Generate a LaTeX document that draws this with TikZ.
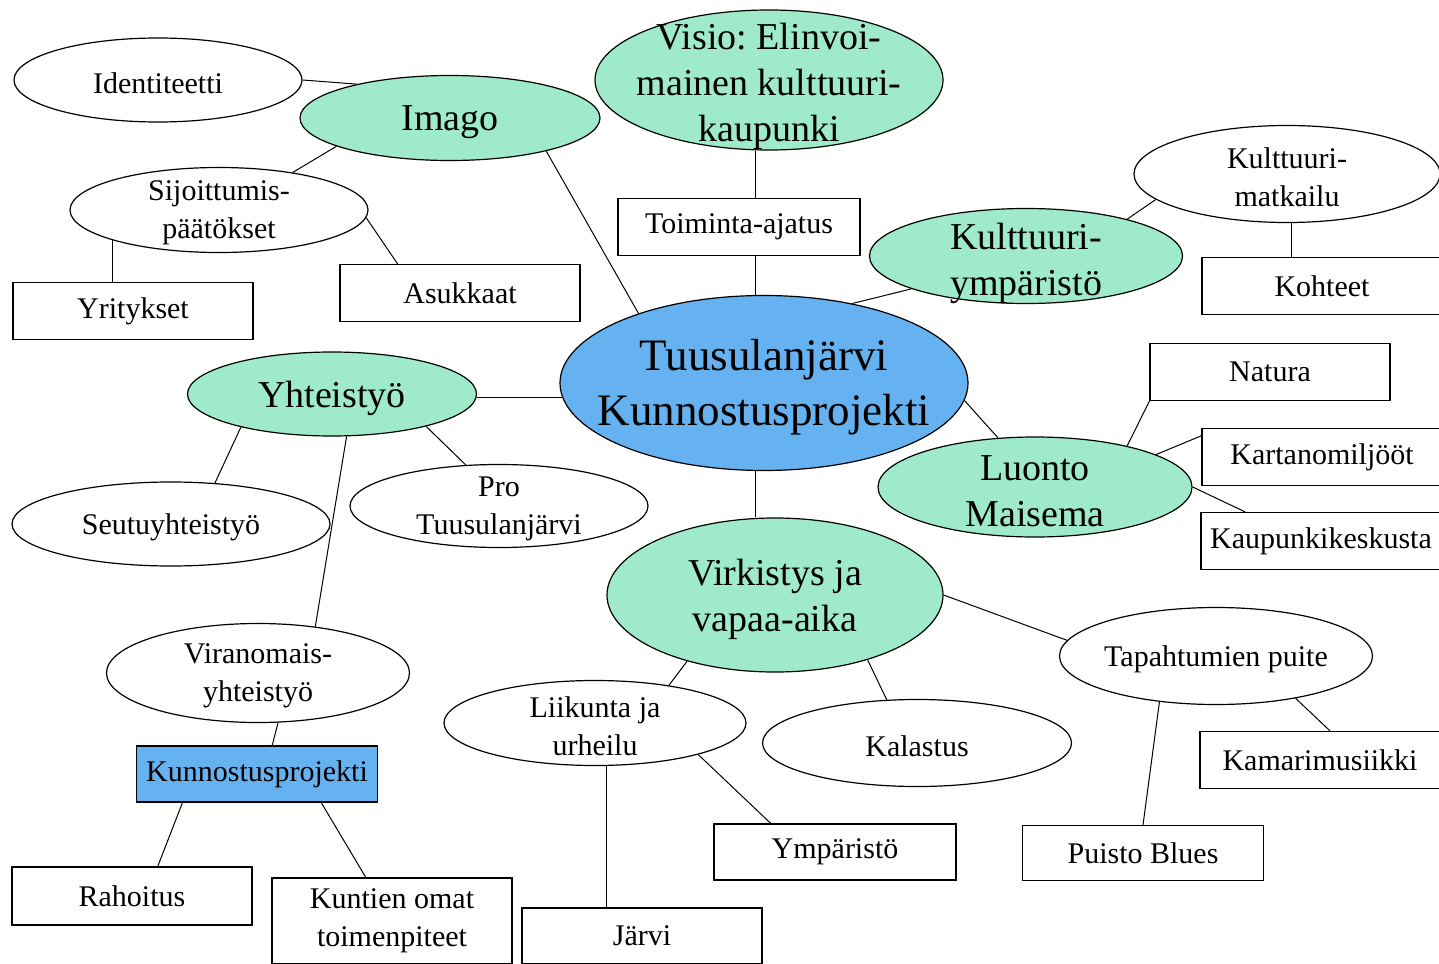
\documentclass[tikz,border=0pt]{standalone}
\usepackage{fontspec}
\setmainfont{Liberation Serif}
\usepackage{tikz}
\usetikzlibrary{shapes,calc}
\definecolor{mint}{RGB}{158,234,202}
\definecolor{sky}{RGB}{102,178,240}

\begin{document}
\begin{tikzpicture}[x=1pt,y=-1pt,line width=1pt]
      \tikzset{oval/.style={ellipse,draw=black,line width=1.2pt,inner sep=0pt,fill=#1},
        oval/.default=white,
        plainbox/.style={rectangle,draw=black,line width=1.2pt,inner sep=0pt,
          minimum width=240,minimum height=57,fill=#1,
          font=\fontsize{30}{38}\selectfont,align=center},
        plainbox/.default=white,
        smalltxt/.style={font=\fontsize{30}{38}\selectfont,align=center,yshift=-3pt},
        bigtxt/.style={font=\fontsize{38}{46}\selectfont,align=center,yshift=-4pt},
        hubtxt/.style={font=\fontsize{45}{55}\selectfont,align=center,yshift=-4pt}
      }
      \useasboundingbox (0,0) rectangle (1439,963);
      \coordinate (spine) at (755,0);

      % main ellipses
      \node [oval=sky,minimum width=408,minimum height=175,
        label={[hubtxt]center:{Tuusulanjärvi\\Kunnostusprojekti}}] (hub) at (764,383) {};
      \node [oval=mint,minimum width=300,minimum height=85,
        label={[bigtxt]center:Imago}] (imago) at (450,118) {};
      \node [oval=mint,minimum width=348,minimum height=140,
        label={[bigtxt,yshift=-2pt]center:{Visio:\ Elinvoi-\\mainen kulttuuri-\\kaupunki}}] (visio) at (769,80) {};
      \node [oval=mint,minimum width=313,minimum height=95,
        label={[bigtxt,yshift=-3pt]center:{Kulttuuri-\\ympäristö}}] (kymp) at (1026,256) {};
      \node [oval=mint,minimum width=289,minimum height=84,
        label={[bigtxt]center:Yhteistyö}] (yht) at (332,394) {};
      \node [oval=mint,minimum width=314,minimum height=100,
        label={[bigtxt]center:{Luonto\\Maisema}}] (luonto) at (1035,487) {};
      \node [oval=mint,minimum width=336,minimum height=154,
        label={[bigtxt]center:{Virkistys ja\\vapaa-aika}}] (virk) at (775,595) {};

      % white ellipses
      \node [oval,minimum width=288,minimum height=84,
        label={[smalltxt]center:Identiteetti}] (ident) at (158,80) {};
      \node [oval,minimum width=298,minimum height=85,
        label={[smalltxt]center:{Sijoittumis-\\päätökset}}] (sij) at (219,210) {};
      \node [oval,minimum width=306,minimum height=97,
        label={[smalltxt]center:{Kulttuuri-\\matkailu}}] (matk) at (1287,174) {};
      \node [oval,minimum width=318,minimum height=84,
        label={[smalltxt]center:Seutuyhteistyö}] (seutu) at (171,524) {};
      \node [oval,minimum width=298,minimum height=83,
        label={[smalltxt]center:{Pro\\Tuusulanjärvi}}] (pro) at (499,506) {};
      \node [oval,minimum width=303,minimum height=99,
        label={[smalltxt]center:{Viranomais-\\yhteistyö}}] (vir) at (258,673) {};
      \node [oval,minimum width=302,minimum height=85,
        label={[smalltxt]center:{Liikunta ja\\urheilu}}] (liik) at (595,723) {};
      \node [oval,minimum width=309,minimum height=87,
        label={[smalltxt]center:Kalastus}] (kal) at (917,743) {};
      \node [oval,minimum width=313,minimum height=97,
        label={[smalltxt]center:Tapahtumien puite}] (tap) at (1216,656) {};

      % boxes
      \node [plainbox] (yrit) at (133,311) {Yritykset};
      \node [plainbox] (asuk) at (460,293) {Asukkaat};
      \node [plainbox,minimum width=242] (toim) at (739,227) {Toiminta-ajatus};
      \node [plainbox] (koh) at (1322,286) {Kohteet};
      \node [plainbox] (natura) at (1270,372) {Natura};
      \node [plainbox] (kart) at (1322,457) {Kartanomiljööt};
      \node [plainbox] (kaup) at (1321,541) {Kaupunkikeskusta};
      \node [plainbox] (kam) at (1320,760) {Kamarimusiikki};
      \node [plainbox=sky,minimum width=241,minimum height=56] (kun) at (257,774) {Kunnostusprojekti};
      \node [plainbox,minimum width=242,minimum height=56] (ymp) at (835,852) {Ympäristö};
      \node [plainbox,minimum width=241,minimum height=55] (puisto) at (1143,853) {Puisto Blues};
      \node [plainbox,minimum height=58] (rah) at (132,896) {Rahoitus};
      \node [plainbox,minimum height=86] (kunt) at (392,921) {Kuntien omat\\toimenpiteet};
      \node [plainbox,minimum height=56] (jarvi) at (642,936) {Järvi};

      % connectors
      \draw (ident.0)--(imago.160);
      \draw (imago.194)--(sij.27);
      \draw (sij.-164)--(sij.-164 |- yrit.north);
      \draw (sij.-3)--(asuk.155);
      \draw (imago.-19)--(hub.151);
      \draw (visio.south -| spine)--(toim.north -| spine);
      \draw (toim.south -| spine)--(hub.north -| spine);
      \draw (hub.42)--(kymp.-164);
      \draw (kymp.20)--(matk.-169);
      \draw (matk.-85)--(matk.-85 |- koh.north);
      \draw (hub.-5)--(luonto.127);
      \draw (luonto.24)--(natura.south west);
      \draw (luonto.15)--(kart.170);
      \draw (luonto.0)--(kaup.159);
      \draw (hub.-176)--(hub.-176 -| yht.east);
      \draw (yht.-160)--(seutu.43);
      \draw (yht.-19)--(pro.129);
      \draw (yht.-71)--(vir.39);
      \draw (hub.south -| spine)--(virk.north -| spine);
      \draw (virk.0)--(tap.174);
      \draw (virk.-143)--(liik.27);
      \draw (virk.-35)--(kal.125);
      \draw (tap.-28)--(kam.71);
      \draw (tap.-141)--(puisto.north);
      \draw (liik.-75)--(liik.-75 |- jarvi.north);
      \draw (liik.-17)--(ymp.156);
      \draw (vir.-68)--(kun.62);
      \draw (kun.-159)--(rah.49);
      \draw (kun.-24)--(kunt.121);
\end{tikzpicture}
\end{document}
